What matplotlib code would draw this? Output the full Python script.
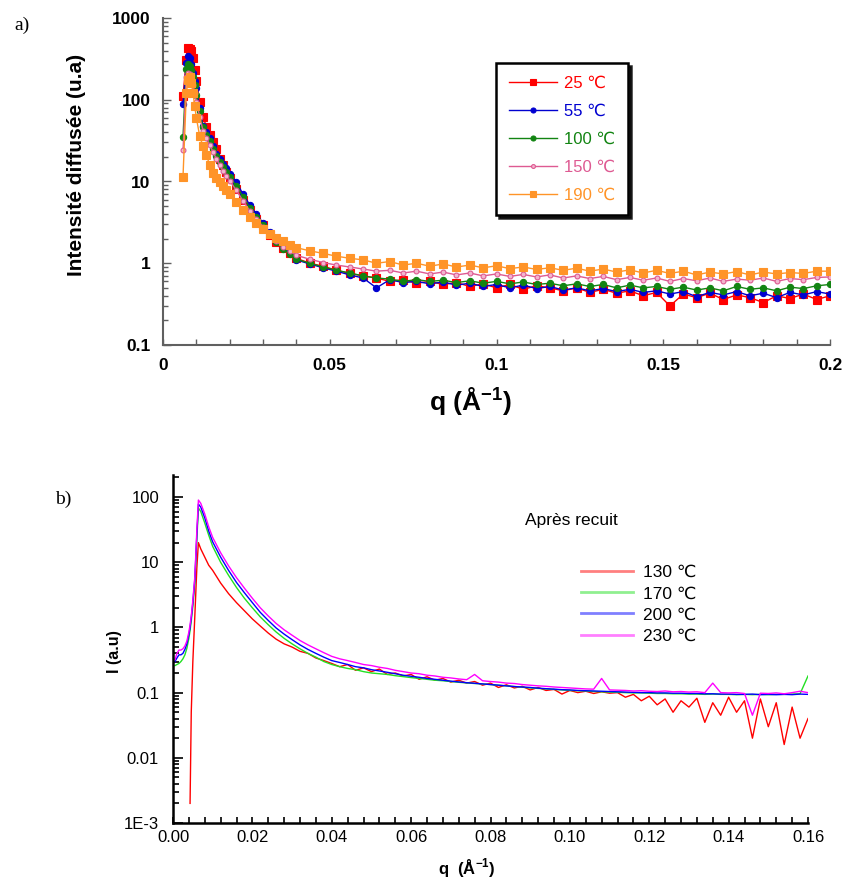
import numpy as np
import matplotlib.pyplot as plt
from matplotlib.ticker import LogLocator, MultipleLocator, NullFormatter

plt.rcParams['font.family'] = ['Liberation Sans', 'DejaVu Sans']
plt.rcParams['mathtext.fontset'] = 'custom'
plt.rcParams['mathtext.rm'] = 'Liberation Sans'
plt.rcParams['mathtext.bf'] = 'Liberation Sans:bold'

# ---------- a) données SAXS en température ----------
q_a = [0.006, 0.007, 0.0075, 0.008, 0.0085, 0.009, 0.0095, 0.010, 0.011, 0.012,
       0.013, 0.014, 0.015, 0.016, 0.017, 0.018, 0.019, 0.020, 0.022, 0.024,
       0.026, 0.028, 0.030, 0.032, 0.034, 0.036, 0.038,
       0.040, 0.044, 0.048, 0.052, 0.056, 0.060, 0.064, 0.068, 0.072, 0.076,
       0.080, 0.084, 0.088, 0.092, 0.096, 0.100, 0.104, 0.108, 0.112, 0.116,
       0.120, 0.124, 0.128, 0.132, 0.136, 0.140, 0.144, 0.148, 0.152, 0.156,
       0.160, 0.164, 0.168, 0.172, 0.176, 0.180, 0.184, 0.188, 0.192, 0.196, 0.200]

I_25 = [110, 310, 430, 420, 390, 320, 230, 170, 95, 62, 47, 37, 30, 25, 19, 16, 13, 11,
        8, 6, 4.5, 3.5, 2.9, 2.2, 1.8, 1.55, 1.35,
        1.15, 1.0, 0.92, 0.82, 0.75, 0.7, 0.66, 0.6, 0.63, 0.57, 0.6, 0.55, 0.58, 0.52,
        0.56, 0.5, 0.55, 0.48, 0.53, 0.5, 0.46, 0.5, 0.44, 0.48, 0.43, 0.46, 0.4, 0.44,
        0.3, 0.42, 0.38, 0.43, 0.36, 0.41, 0.38, 0.33, 0.4, 0.37, 0.42, 0.36, 0.4]
I_55 = [89, 280, 340, 320, 270, 210, 170, 140, 80, 48, 40, 34, 27, 22, 19, 16.5, 14.5, 12.5,
        9.8, 7, 5.2, 4, 3.1, 2.4, 1.9, 1.6, 1.35,
        1.1, 0.98, 0.88, 0.8, 0.72, 0.66, 0.5, 0.63, 0.58, 0.6, 0.56, 0.59, 0.54, 0.57,
        0.52, 0.55, 0.5, 0.54, 0.49, 0.52, 0.47, 0.5, 0.46, 0.49, 0.45, 0.48, 0.44, 0.46,
        0.42, 0.45, 0.39, 0.44, 0.41, 0.45, 0.4, 0.43, 0.38, 0.44, 0.41, 0.45, 0.42]
I_100 = [35, 240, 270, 260, 230, 190, 150, 115, 72, 46, 37, 31, 25, 20.5, 17.5, 15, 13, 11.5,
         8.8, 6.5, 4.8, 3.7, 2.9, 2.25, 1.8, 1.5, 1.3,
         1.12, 1.0, 0.9, 0.82, 0.76, 0.7, 0.66, 0.64, 0.6, 0.63, 0.6, 0.62, 0.58, 0.61,
         0.57, 0.6, 0.56, 0.59, 0.55, 0.57, 0.53, 0.56, 0.52, 0.55, 0.5, 0.54, 0.5, 0.52,
         0.48, 0.51, 0.47, 0.5, 0.46, 0.52, 0.48, 0.5, 0.46, 0.51, 0.49, 0.53, 0.55]
I_150 = [24, 190, 215, 205, 180, 150, 120, 95, 62, 42, 34, 28, 23, 19, 16, 13.5, 11.8, 10.2,
         7.8, 5.8, 4.4, 3.5, 2.8, 2.25, 1.85, 1.6, 1.42,
         1.25, 1.12, 1.02, 0.95, 0.9, 0.85, 0.8, 0.82, 0.76, 0.8, 0.74, 0.78, 0.72, 0.76,
         0.7, 0.74, 0.69, 0.73, 0.68, 0.72, 0.66, 0.7, 0.65, 0.69, 0.63, 0.67, 0.62, 0.66,
         0.6, 0.65, 0.61, 0.66, 0.6, 0.64, 0.62, 0.66, 0.6, 0.65, 0.63, 0.67, 0.68]
I_190 = [11.5, 120, 175, 190, 160, 120, 85, 60, 36, 27, 21, 16, 12.7, 11, 9.8, 8.8, 7.8, 7.0,
         5.6, 4.5, 3.7, 3.1, 2.6, 2.3, 2.05, 1.85, 1.65,
         1.55, 1.42, 1.32, 1.22, 1.15, 1.1, 1.0, 1.05, 0.95, 1.0, 0.92, 0.98, 0.9, 0.95,
         0.88, 0.93, 0.86, 0.9, 0.84, 0.88, 0.82, 0.87, 0.8, 0.85, 0.78, 0.83, 0.76, 0.82,
         0.75, 0.8, 0.72, 0.78, 0.74, 0.79, 0.72, 0.78, 0.74, 0.77, 0.75, 0.8, 0.8]

labels_a = ['25 ℃', '55 ℃', '100 ℃', '150 ℃', '190 ℃']
xticks_a = [0, 0.05, 0.1, 0.15, 0.2]
xticklabels_a = ['0', '0.05', '0.1', '0.15', '0.2']
yticks_a = [0.1, 1, 10, 100, 1000]
yticklabels_a = ['0.1', '1', '10', '100', '1000']

# ---------- b) après recuit ----------
q_b = [0.0005, 0.001, 0.0015, 0.002, 0.0025, 0.003, 0.0035, 0.004, 0.0043, 0.0046,
       0.005, 0.0055, 0.006, 0.0064, 0.007, 0.008, 0.009,
       0.010, 0.012, 0.014, 0.016, 0.018, 0.020, 0.022, 0.024, 0.026, 0.028,
       0.030, 0.032, 0.034, 0.036, 0.038, 0.040, 0.042, 0.044, 0.046, 0.048,
       0.050, 0.052, 0.054, 0.056, 0.058, 0.060, 0.062, 0.064, 0.066, 0.068,
       0.070, 0.072, 0.074, 0.076, 0.078, 0.080, 0.082, 0.084, 0.086, 0.088,
       0.090, 0.092, 0.094, 0.096, 0.098, 0.100, 0.102, 0.104, 0.106, 0.108,
       0.110, 0.112, 0.114, 0.116, 0.118, 0.120, 0.122, 0.124, 0.126, 0.128,
       0.130, 0.132, 0.134, 0.136, 0.138, 0.140, 0.142, 0.144, 0.146, 0.148,
       0.150, 0.152, 0.154, 0.156, 0.158, 0.160]

nan = np.nan
I_130 = [nan, nan, nan, nan, nan, nan, nan, nan, 0.002, 0.05, 0.3, 1.5, 8, 20, 16, 12, 9,
         7.5, 4.8, 3.3, 2.4, 1.8, 1.35, 1.05, 0.82, 0.66, 0.56, 0.5, 0.43, 0.4, 0.34, 0.31, 0.28,
         0.25, 0.27, 0.22, 0.24, 0.21, 0.23, 0.19, 0.2, 0.18, 0.19,
         0.16, 0.175, 0.155, 0.165, 0.145, 0.155, 0.14, 0.148, 0.13, 0.14,
         0.12, 0.132, 0.118, 0.125, 0.11, 0.12, 0.108, 0.112, 0.095, 0.108,
         0.1, 0.105, 0.097, 0.103, 0.098, 0.1, 0.085, 0.094, 0.075, 0.088,
         0.065, 0.08, 0.05, 0.075, 0.06, 0.082, 0.035, 0.07, 0.045, 0.085,
         0.05, 0.075, 0.02, 0.08, 0.03, 0.07, 0.016, 0.06, 0.02, 0.04]
I_170 = [0.26, 0.27, 0.28, 0.3, 0.33, 0.38, 0.48, 0.68, 0.9, 1.25, 2.1, 4.8, 22, 68, 60, 40, 26,
         17.5, 10, 6.3, 4.1, 2.8, 2.0, 1.45, 1.1, 0.85, 0.68, 0.56, 0.47, 0.4, 0.35, 0.3, 0.27,
         0.25, 0.235, 0.225, 0.21, 0.2, 0.195, 0.19, 0.182, 0.176, 0.17,
         0.165, 0.16, 0.155, 0.152, 0.148, 0.144, 0.141, 0.138, 0.136, 0.133,
         0.13, 0.127, 0.124, 0.121, 0.118, 0.116, 0.114, 0.112, 0.11, 0.108,
         0.107, 0.106, 0.104, 0.103, 0.102, 0.101, 0.1, 0.099, 0.099, 0.098,
         0.097, 0.097, 0.096, 0.096, 0.095, 0.095, 0.094, 0.095, 0.094, 0.094,
         0.093, 0.094, 0.093, 0.094, 0.093, 0.094, 0.094, 0.095, 0.096, 0.18]
I_200 = [0.3, 0.34, 0.38, 0.38, 0.4, 0.46, 0.56, 0.78, 1.0, 1.4, 2.4, 5.5, 26, 78, 70, 48, 30,
         20.5, 12, 7.5, 4.9, 3.4, 2.4, 1.7, 1.28, 0.98, 0.79, 0.65, 0.54, 0.46, 0.4, 0.35, 0.31,
         0.29, 0.27, 0.25, 0.24, 0.225, 0.215, 0.205, 0.195, 0.185, 0.178,
         0.172, 0.165, 0.16, 0.155, 0.15, 0.146, 0.142, 0.139, 0.136, 0.133,
         0.13, 0.127, 0.124, 0.122, 0.12, 0.117, 0.115, 0.113, 0.111, 0.11,
         0.108, 0.107, 0.106, 0.105, 0.104, 0.103, 0.102, 0.101, 0.1, 0.1,
         0.099, 0.099, 0.098, 0.098, 0.097, 0.097, 0.096, 0.096, 0.095, 0.095,
         0.094, 0.094, 0.095, 0.093, 0.094, 0.093, 0.094, 0.093, 0.095, 0.094]
I_230 = [0.32, 0.4, 0.45, 0.45, 0.47, 0.52, 0.62, 0.85, 1.1, 1.5, 2.6, 6, 30, 90, 80, 55, 35,
         24, 14, 8.8, 5.8, 4.0, 2.8, 2.0, 1.5, 1.15, 0.92, 0.76, 0.63, 0.54, 0.47, 0.41, 0.36,
         0.33, 0.31, 0.29, 0.27, 0.26, 0.245, 0.235, 0.22, 0.21, 0.2,
         0.195, 0.185, 0.18, 0.172, 0.168, 0.162, 0.158, 0.19, 0.152, 0.148,
         0.145, 0.14, 0.138, 0.133, 0.13, 0.127, 0.125, 0.122, 0.12, 0.118,
         0.116, 0.114, 0.113, 0.165, 0.11, 0.109, 0.108, 0.106, 0.107, 0.105,
         0.104, 0.106, 0.103, 0.104, 0.102, 0.103, 0.1, 0.14, 0.1, 0.099,
         0.1, 0.097, 0.045, 0.098, 0.097, 0.099, 0.096, 0.1, 0.105, 0.1]

labels_b = ['130 ℃', '170 ℃', '200 ℃', '230 ℃']
xticks_b = [0.00, 0.02, 0.04, 0.06, 0.08, 0.10, 0.12, 0.14, 0.16]
xticklabels_b = ['0.00', '0.02', '0.04', '0.06', '0.08', '0.10', '0.12', '0.14', '0.16']
yticks_b = [0.001, 0.01, 0.1, 1, 10, 100]
yticklabels_b = ['1E-3', '0.01', '0.1', '1', '10', '100']

W, H = 847, 886
fig = plt.figure(figsize=(W / 100, H / 100), dpi=100)

# ---------------- panneau a ----------------
ax1 = fig.add_axes([163 / W, 1 - 345 / H, 667 / W, 327 / H])
styles_a = [
    (I_25, '#ff0000', 's', 5.5, '#ff0000'),
    (I_55, '#0000d0', 'o', 4.5, '#0000d0'),
    (I_100, '#128412', 'o', 4.5, '#128412'),
    (I_150, '#de5a92', 'o', 3.5, '#f2b6cf'),
    (I_190, '#ff9428', 's', 5.5, '#ff9428'),
]
for (vals, col, mk, ms, mfc), lab in zip(styles_a, labels_a):
    ax1.plot(q_a, vals, color=col, lw=1, marker=mk, ms=ms, mfc=mfc, mec=col,
             mew=0.8, label=lab)

ax1.set_yscale('log')
ax1.set_xlim(0, 0.2)
ax1.set_ylim(0.1, 1000)
ax1.set_xticks(xticks_a, labels=xticklabels_a)
ax1.set_yticks(yticks_a, labels=yticklabels_a)
ax1.xaxis.set_minor_locator(MultipleLocator(0.01))
ax1.yaxis.set_minor_locator(LogLocator(base=10, subs=np.arange(2, 10)))
ax1.yaxis.set_minor_formatter(NullFormatter())
for s in ['top', 'right']:
    ax1.spines[s].set_visible(False)
for s in ['left', 'bottom']:
    ax1.spines[s].set_color('#606060')
    ax1.spines[s].set_linewidth(1.5)
ax1.tick_params(which='both', direction='in', color='#606060', width=1)
ax1.tick_params(axis='x', which='both', length=4, pad=9, labelsize=12.5)
ax1.tick_params(axis='y', which='major', length=6, pad=9, labelsize=12.5)
ax1.tick_params(axis='y', which='minor', length=3.5)
for t in ax1.get_xticklabels() + ax1.get_yticklabels():
    t.set_fontweight('bold')

leg = ax1.legend(loc='upper left', bbox_to_anchor=(496 / W, 1 - 63 / H),
                 bbox_transform=fig.transFigure, borderaxespad=0,
                 frameon=True, fancybox=False, framealpha=1, edgecolor='black',
                 shadow={'color': 'black', 'alpha': 0.85}, numpoints=1,
                 handlelength=2.9, handletextpad=0.45, labelspacing=0.78,
                 borderpad=0.75, fontsize=12, labelcolor='linecolor',
                 markerscale=0.8)
leg.get_frame().set_linewidth(1.8)

fig.text(22 / W, 1 - 25 / H, 'a)', family='Liberation Serif', fontsize=14,
         ha='center', va='center')
fig.text(76 / W, 1 - 165 / H, 'Intensité diffusée (u.a)', rotation=90,
         fontsize=15, fontweight='bold', ha='center', va='center')
fig.text(470 / W, 1 - 402 / H, r'q (Å$^{\mathbf{-1}}$)', fontsize=19,
         fontweight='bold', ha='center', va='center')

# ---------------- panneau b ----------------
ax2 = fig.add_axes([173 / W, 1 - 823 / H, 635 / W, 348 / H])
styles_b = ['#ff0000', '#22e022', '#0000ff', '#ff00ff']
for vals, col, lab in zip([I_130, I_170, I_200, I_230], styles_b, labels_b):
    ax2.plot(q_b, vals, color=col, lw=1, label=lab)

ax2.set_yscale('log')
ax2.set_xlim(0, 0.16)
ax2.set_ylim(0.001, 218)
ax2.set_xticks(xticks_b, labels=xticklabels_b)
ax2.set_yticks(yticks_b, labels=yticklabels_b)
ax2.xaxis.set_minor_locator(MultipleLocator(0.004))
ax2.yaxis.set_minor_locator(LogLocator(base=10, subs=np.arange(2, 10)))
ax2.yaxis.set_minor_formatter(NullFormatter())
for s in ['top', 'right']:
    ax2.spines[s].set_visible(False)
for s in ['left', 'bottom']:
    ax2.spines[s].set_linewidth(1.8)
ax2.tick_params(which='both', direction='in', width=1.2)
ax2.tick_params(axis='x', which='both', length=4, pad=5, labelsize=12)
ax2.tick_params(axis='y', which='major', length=7, pad=10, labelsize=12)
ax2.tick_params(axis='y', which='minor', length=4)

leg2 = ax2.legend(loc='upper left', bbox_to_anchor=(574 / W, 1 - 558 / H),
                  bbox_transform=fig.transFigure, borderaxespad=0, frameon=False,
                  handlelength=3.0, handletextpad=0.6, labelspacing=0.35,
                  fontsize=12.5)
for h in leg2.get_lines():
    h.set_alpha(0.5)
    h.set_linewidth(2)

fig.text(571 / W, 1 - 521 / H, 'Après recuit', fontsize=12.5, ha='center', va='center')
fig.text(63 / W, 1 - 499 / H, 'b)', family='Liberation Serif', fontsize=14,
         ha='center', va='center')
fig.text(114 / W, 1 - 652 / H, 'I (a.u)', rotation=90, fontsize=11.5,
         fontweight='bold', ha='center', va='center')
fig.text(467 / W, 1 - 868 / H, r'q  (Å$^{\mathbf{-1}}$)', fontsize=12,
         fontweight='bold', ha='center', va='center')

fig.savefig('out.png', dpi=100)
